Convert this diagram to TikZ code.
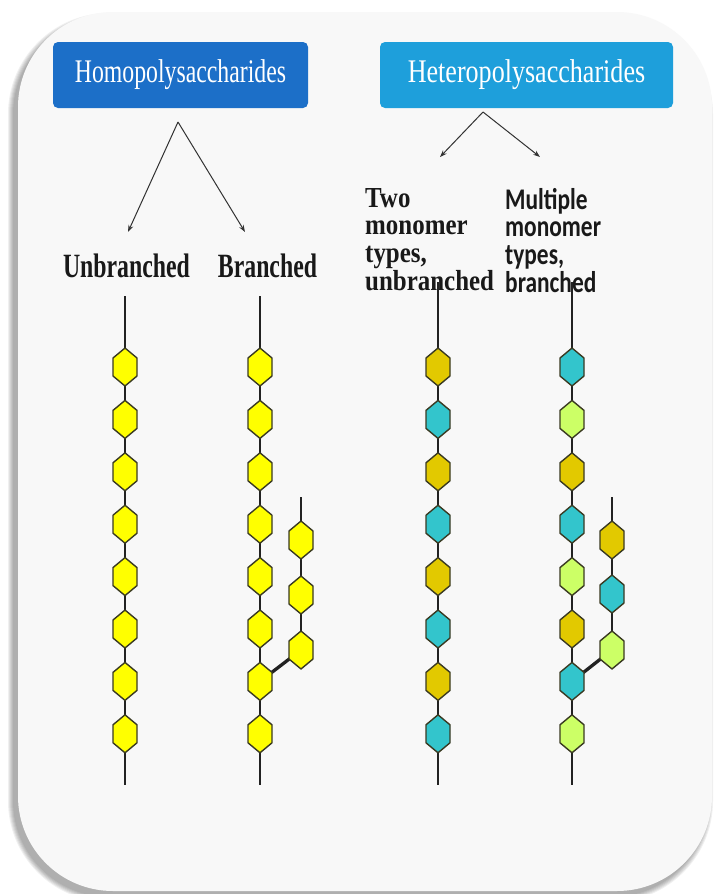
\documentclass[tikz,border=0pt]{standalone}
\usepackage{fontspec}
\usepackage{graphicx}
\setmainfont{Liberation Serif}
\newfontfamily\boxfontA[FakeStretch=0.72]{Liberation Serif}
\newfontfamily\boxfontB[FakeStretch=0.79]{Liberation Serif}
\newfontfamily\lblfont[FakeStretch=0.70]{Liberation Serif}
\newfontfamily\twofont[FakeStretch=0.86]{Liberation Serif}
\newfontfamily\multfont[FakeStretch=0.78]{Carlito}
\usetikzlibrary{arrows.meta,calc}
\definecolor{homoblue}{HTML}{1C6FC8}
\definecolor{heteroblue}{HTML}{1E9FDB}
\definecolor{cardbg}{HTML}{F8F8F8}
\definecolor{yelm}{HTML}{FFFF00}
\definecolor{dyelm}{HTML}{E2C900}
\definecolor{cyanm}{HTML}{33C5CC}
\definecolor{limem}{HTML}{CCFF66}
\definecolor{hexedge}{HTML}{3A3A22}
\definecolor{inkline}{HTML}{222222}
\newcommand{\hexa}[2]{\filldraw[hexline, fill=#2] ($(#1)+(0,-19)$) -- ++(12,10) -- ++(0,18) -- ++(-12,10) -- ++(-12,-10) -- ++(0,-18) -- cycle;}
\begin{document}
\begin{tikzpicture}[x=1pt,y=-1pt,
  hexline/.style={draw=hexedge, line width=1.4pt, line join=round},
  chainline/.style={draw=inkline, line width=2.9pt},
  branchline/.style={draw=inkline, line width=3.3pt},
  arr/.style={draw=black!80, line width=1pt, -{Stealth[length=7pt,width=5pt]}},
  topbox/.style={rounded corners=5pt, minimum height=66pt, inner sep=0pt, text=white},
  lbl/.style={inner sep=0pt, text=black!90}]
\useasboundingbox (0,0) rectangle (715,894);
\fill[white] (0,0) rectangle (715,894);
% card shadow (left and bottom)
\foreach \k in {1,...,6}{
  \fill[black, opacity=0.06, rounded corners=95+\k] (18-4-\k,12+7-\k) rectangle (712-5+\k,892+4+\k);
}
\fill[cardbg, rounded corners=95] (18,12) rectangle (712,891);
% title boxes
\node[topbox, fill=homoblue, minimum width=255pt] (homo) at (180.5,75)
  {\boxfontA\fontsize{33}{33}\selectfont Homopolysaccharides};
\node[topbox, fill=heteroblue, minimum width=293pt] (hetero) at (526.5,75)
  {\boxfontB\fontsize{33}{33}\selectfont Heteropolysaccharides};
% arrows
\coordinate (hapex) at (178,122);
\coordinate (hl) at (128,232);
\coordinate (hr) at (245,232);
\coordinate (tapex) at (483,112);
\coordinate (tl) at (440,157);
\coordinate (tr) at (540,157);
\draw[arr] (hapex) -- (hl);
\draw[arr] (hapex) -- (hr);
\draw[arr] (tapex) -- (tl);
\draw[arr] (tapex) -- (tr);
% labels
\node[lbl, anchor=base] (unb) at (126.5,277) {\lblfont\bfseries\fontsize{34}{34}\selectfont Unbranched};
\node[lbl, anchor=base] (bra) at (267.5,277) {\lblfont\bfseries\fontsize{34}{34}\selectfont Branched};
\node[lbl, anchor=north west, align=left, font=\twofont\bfseries\fontsize{29}{27.7}\selectfont] (two) at (365,188)
  {Two\\monomer\\types,\\unbranched};
\node[lbl, anchor=north west, align=left, font=\multfont\bfseries\fontsize{30}{27.7}\selectfont] (mult) at (505,188)
  {Multiple\\monomer\\types,\\branched};
% chain coordinates
\foreach \i in {0,...,7}{
  \pgfmathsetmacro\yy{367+52.4*\i}
  \coordinate (a\i) at (125,\yy);
  \coordinate (b\i) at (260,\yy);
  \coordinate (c\i) at (438,\yy);
  \coordinate (d\i) at (572,\yy);
}
\coordinate (bs1) at (301,540); \coordinate (bs2) at (301,595); \coordinate (bs3) at (301,650);
\coordinate (ds1) at (612,540); \coordinate (ds2) at (612,594); \coordinate (ds3) at (612,650);
\coordinate (atop) at (125,296); \coordinate (abot) at (125,785);
\coordinate (btop) at (260,296); \coordinate (bbot) at (260,785);
\coordinate (ctop) at (438,282); \coordinate (cbot) at (438,785);
\coordinate (dtop) at (572,282); \coordinate (dbot) at (572,785);
\coordinate (bstop) at (301,497); \coordinate (dstop) at (612,497);
% backbone lines
\draw[chainline] (atop) -- (abot);
\draw[chainline] (btop) -- (bbot);
\draw[chainline] (ctop) -- (cbot);
\draw[chainline] (dtop) -- (dbot);
\draw[chainline] (bstop) -- (bs3);
\draw[chainline] (dstop) -- (ds3);
\draw[branchline] (b6) -- (bs3);
\draw[branchline] (d6) -- (ds3);
% hexagons
\foreach \i in {0,...,7}{ \hexa{a\i}{yelm} \hexa{b\i}{yelm} }
\foreach \i in {1,2,3}{ \hexa{bs\i}{yelm} }
\foreach \i/\c in {0/dyelm,1/cyanm,2/dyelm,3/cyanm,4/dyelm,5/cyanm,6/dyelm,7/cyanm}{ \hexa{c\i}{\c} }
\foreach \i/\c in {0/cyanm,1/limem,2/dyelm,3/cyanm,4/limem,5/dyelm,6/cyanm,7/limem}{ \hexa{d\i}{\c} }
\hexa{ds1}{dyelm} \hexa{ds2}{cyanm} \hexa{ds3}{limem}
\end{tikzpicture}
\end{document}
